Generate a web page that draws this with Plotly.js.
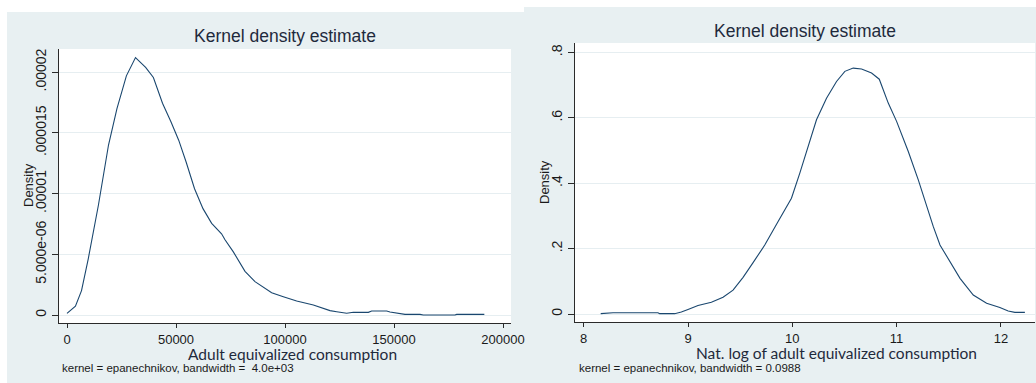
<!DOCTYPE html>
<html>
<head>
<meta charset="utf-8">
<script src="https://cdn.plot.ly/plotly-3.0.1.min.js"></script>
<style>html,body{margin:0;padding:0;background:#fff;}#chart{width:1036px;height:383px;}</style>
</head>
<body>
<div id="chart"></div>
<script>
// ---- Data: left panel (levels) ----
const consumption = [0, 3870, 6660, 9750, 14400, 19040, 22910, 27240, 31420, 36070, 39630, 43810, 47680, 51240, 54640, 58510, 62380, 66360, 70900, 72480, 76300, 79500, 81650, 86240, 93880, 99240, 105350, 113000, 120640, 123700, 128290, 131350, 138230, 139750, 146640, 148170, 151990, 155050, 161930, 163460, 177980, 178750, 191440];
const densityLevel = [1.4e-7, 7.2e-7, 2.01e-6, 4.63e-6, 9.04e-6, 1.40e-5, 1.70e-5, 1.97e-5, 2.12e-5, 2.04e-5, 1.956e-5, 1.744e-5, 1.592e-5, 1.44e-5, 1.26e-5, 1.04e-5, 8.76e-6, 7.55e-6, 6.69e-6, 6.2e-6, 5.2e-6, 4.3e-6, 3.6e-6, 2.75e-6, 1.84e-6, 1.51e-6, 1.15e-6, 8.2e-7, 3.6e-7, 2.7e-7, 1.4e-7, 2.2e-7, 2.2e-7, 3.3e-7, 3.3e-7, 2.5e-7, 1.4e-7, 5e-8, 5e-8, 0, 0, 5e-8, 5e-8];

// ---- Data: right panel (logs) ----
const logConsumption = [8.163, 8.281, 8.712, 8.728, 8.872, 8.936, 9.0, 9.096, 9.224, 9.336, 9.432, 9.528, 9.624, 9.736, 9.864, 9.992, 10.072, 10.152, 10.232, 10.328, 10.424, 10.504, 10.584, 10.664, 10.76, 10.834, 10.92, 11.0, 11.112, 11.208, 11.288, 11.352, 11.416, 11.512, 11.608, 11.735, 11.863, 11.99, 12.07, 12.134, 12.23];
const densityLog = [0.001, 0.004, 0.004, 0.001, 0.001, 0.006, 0.014, 0.026, 0.036, 0.051, 0.073, 0.112, 0.157, 0.211, 0.283, 0.354, 0.431, 0.512, 0.594, 0.660, 0.711, 0.742, 0.752, 0.749, 0.737, 0.718, 0.645, 0.589, 0.497, 0.41, 0.329, 0.267, 0.211, 0.16, 0.109, 0.058, 0.033, 0.020, 0.009, 0.005, 0.005];

// ---- Tick labels ----
const leftXTicks = [0, 50000, 100000, 150000, 200000];
const leftXLabels = ["0", "50000", "100000", "150000", "200000"];
const leftYTicks = [0, 0.000005, 0.00001, 0.000015, 0.00002];
const leftYLabels = ["0", "5.000e-06", ".00001", ".000015", ".00002"];
const rightXTicks = [8, 9, 10, 11, 12];
const rightXLabels = ["8", "9", "10", "11", "12"];
const rightYTicks = [0, 0.2, 0.4, 0.6, 0.8];
const rightYLabels = ["0", ".2", ".4", ".6", ".8"];

// ---- Texts ----
const mainTitle = "Kernel density estimate";
const yTitle = "Density";
const leftXTitle = "Adult equivalized consumption";
const rightXTitle = "Nat. log of adult equivalized consumption";
const leftNote = "kernel = epanechnikov, bandwidth =  4.0e+03";
const rightNote = "kernel = epanechnikov, bandwidth = 0.0988";

const W = 1036, H = 383;
const px = v => v / W;
const py = v => 1 - v / H;

const lineColor = "#1a476f";
const bgColor = "#e8f0f2";
const gridColor = "#e6eef1";
const axisColor = "#2a2a2a";
const tickFontX = {family: "Liberation Sans, Arial, sans-serif", size: 13, color: "#1a1a1a"};
const tickFontY = {family: "Liberation Sans, Arial, sans-serif", size: 14, color: "#1a1a1a"};

const traces = [
  {x: consumption, y: densityLevel, type: "scatter", mode: "lines", line: {color: lineColor, width: 1.1}, xaxis: "x", yaxis: "y", hoverinfo: "skip"},
  {x: logConsumption, y: densityLog, type: "scatter", mode: "lines", line: {color: lineColor, width: 1.1}, xaxis: "x2", yaxis: "y2", hoverinfo: "skip"}
];

function xa(domain, range, tv, tt, anchor) {
  return {domain: domain, range: range, tickvals: tv, ticktext: tt, ticks: "outside", ticklen: 4, tickwidth: 1,
    tickcolor: axisColor, showline: true, linecolor: axisColor, linewidth: 1, showgrid: false, zeroline: false,
    tickfont: tickFontX, anchor: anchor, fixedrange: true};
}
function ya(domain, range, tv, tt, anchor) {
  return {domain: domain, range: range, tickvals: tv, ticktext: tt, tickangle: -90, ticks: "outside", ticklen: 6, tickwidth: 1,
    tickcolor: axisColor, showline: true, linecolor: axisColor, linewidth: 1, showgrid: true, gridcolor: gridColor, gridwidth: 1,
    zeroline: false, tickfont: tickFontY, anchor: anchor, fixedrange: true};
}

const titleFont = {family: "Liberation Sans, Arial, sans-serif", size: 17.5, color: "#1f2a3c"};
const xTitleFont = {family: "Lato, 'Open Sans', sans-serif", size: 15.5, color: "#1f2a3c"};
const yTitleFont = {family: "Liberation Sans, Arial, sans-serif", size: 13, color: "#1a1a1a"};
const noteFont = {family: "Liberation Sans, Arial, sans-serif", size: 11.5, color: "#1a1a1a"};

function ann(text, x, y, font, opts) {
  return Object.assign({text: text, x: px(x), y: py(y), xref: "paper", yref: "paper", showarrow: false, font: font,
    xanchor: "center", yanchor: "middle"}, opts || {});
}

const layout = {
  width: W, height: H,
  margin: {l: 0, r: 0, t: 0, b: 0, pad: 0},
  paper_bgcolor: "#ffffff",
  plot_bgcolor: "rgba(0,0,0,0)",
  showlegend: false,
  xaxis: xa([px(58.5), px(511)], [-3900, 203670], leftXTicks, leftXLabels, "y"),
  yaxis: ya([py(323), py(49)], [-6.59e-7, 2.191e-5], leftYTicks, leftYLabels, "x"),
  xaxis2: xa([px(575), px(1035)], [7.9166, 12.327], rightXTicks, rightXLabels, "y2"),
  yaxis2: ya([py(322), py(43)], [-0.02446, 0.8287], rightYTicks, rightYLabels, "x2"),
  shapes: [
    {type: "rect", xref: "paper", yref: "paper", x0: px(7), x1: px(524), y0: 0, y1: py(12), fillcolor: bgColor, line: {width: 0}, layer: "below"},
    {type: "rect", xref: "paper", yref: "paper", x0: px(524), x1: 1, y0: 0, y1: py(7), fillcolor: bgColor, line: {width: 0}, layer: "below"},
    {type: "rect", xref: "paper", yref: "paper", x0: px(58.5), x1: px(511), y0: py(323), y1: py(49), fillcolor: "#ffffff", line: {width: 0}, layer: "below"},
    {type: "rect", xref: "paper", yref: "paper", x0: px(575), x1: px(1035), y0: py(322), y1: py(43), fillcolor: "#ffffff", line: {width: 0}, layer: "below"}
  ],
  annotations: [
    ann(mainTitle, 285, 36, titleFont),
    ann(mainTitle, 805, 31, titleFont),
    ann(yTitle, 28, 185, yTitleFont, {textangle: -90}),
    ann(yTitle, 545, 182, yTitleFont, {textangle: -90}),
    ann(leftXTitle, 292, 354, xTitleFont),
    ann(rightXTitle, 836.7, 353, xTitleFont),
    ann(leftNote, 60, 368, noteFont, {xanchor: "left"}),
    ann(rightNote, 577, 367.5, noteFont, {xanchor: "left"})
  ]
};

Plotly.newPlot("chart", traces, layout, {staticPlot: true, displayModeBar: false});
</script>
</body>
</html>
